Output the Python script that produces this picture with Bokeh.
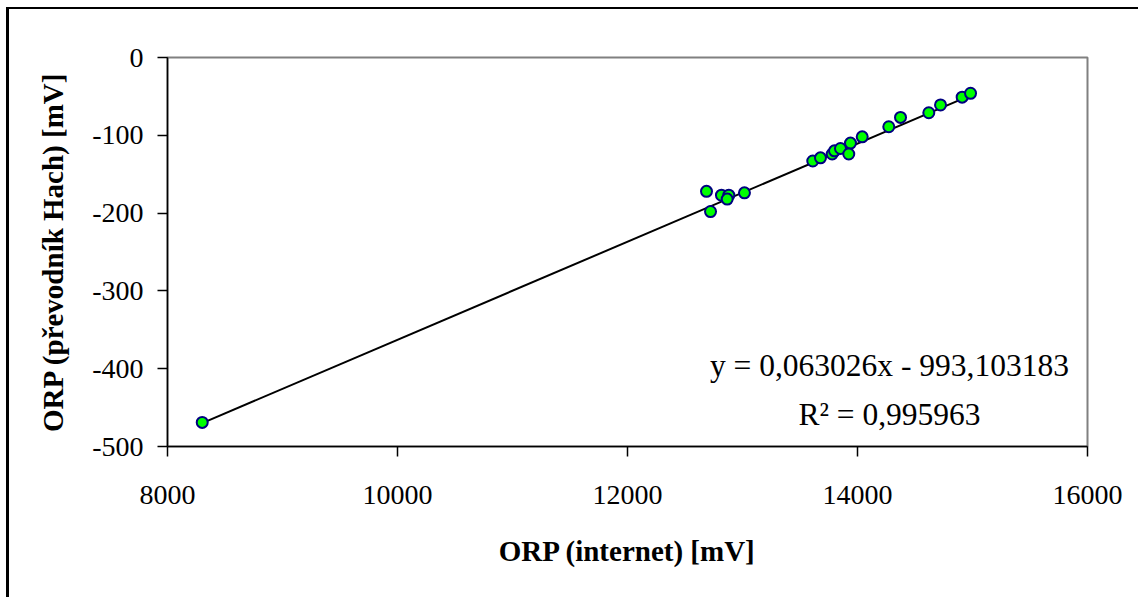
from bokeh.plotting import figure
from bokeh.models import Range1d, Label, FixedTicker
from bokeh.embed import file_html
from bokeh.resources import INLINE

# Data
orp_internet = [8302, 12687, 12722, 12817, 12881, 12867, 13017, 13611, 13678, 13780,
                13800, 13852, 13939, 13924, 14041, 14272, 14374, 14620, 14722, 14910, 14983]
orp_hach = [-469, -172, -198, -177, -177, -182, -174, -133, -129, -124,
            -120, -117, -110, -124, -102, -89, -77, -71, -61, -51, -46]

slope = 0.063026
intercept = -993.103183
eq_text = "y = 0,063026x - 993,103183"
r2_text = "R\u00b2 = 0,995963"

x_ticks = [8000, 10000, 12000, 14000, 16000]
y_ticks = [-500, -400, -300, -200, -100, 0]

FONT = "Liberation Serif"

p = figure(width=1132, height=590, output_backend="svg", toolbar_location=None,
           x_range=Range1d(8000, 16000), y_range=Range1d(-500, 0),
           min_border_left=158, min_border_right=54, min_border_top=48, min_border_bottom=153)
p.styles = {"border-left": "3px solid black", "border-top": "2px solid black",
            "margin-left": "6px", "margin-top": "7px"}

p.xgrid.visible = False
p.ygrid.visible = False
p.outline_line_color = "#808080"
p.outline_line_width = 2
p.background_fill_color = "white"
p.border_fill_color = "white"

for ax in (p.xaxis[0], p.yaxis[0]):
    ax.axis_line_color = "black"
    ax.axis_line_width = 1.5
    ax.major_tick_line_color = "black"
    ax.major_tick_line_width = 1.5
    ax.major_tick_in = 0
    ax.major_tick_out = 10
    ax.minor_tick_line_color = None
    ax.major_label_text_font = FONT
    ax.major_label_text_font_size = "28px"
    ax.major_label_text_color = "black"
    ax.axis_label_text_font = FONT
    ax.axis_label_text_font_size = "29px"
    ax.axis_label_text_font_style = "bold"
    ax.axis_label_text_color = "black"

p.xaxis.ticker = FixedTicker(ticks=x_ticks)
p.yaxis.ticker = FixedTicker(ticks=y_ticks)
p.xaxis.major_label_overrides = {t: str(t) for t in x_ticks}
p.yaxis.major_label_overrides = {t: str(t) for t in y_ticks}
p.xaxis.axis_label = "ORP (internet) [mV]"
p.yaxis.axis_label = "ORP (p\u0159evodn\u00edk Hach) [mV]"
p.xaxis.major_label_standoff = 29
p.yaxis.major_label_standoff = 14
p.xaxis.axis_label_standoff = 28
p.yaxis.axis_label_standoff = 20

# Trend line from min to max x using the regression
x0, x1 = min(orp_internet), max(orp_internet)
p.line([x0, x1], [slope * x0 + intercept, slope * x1 + intercept],
       line_color="black", line_width=2)

p.scatter(orp_internet, orp_hach, size=11, fill_color="#00FF00",
          line_color="#000080", line_width=2)

p.add_layout(Label(x=14278, y=-396, text=eq_text, text_align="center",
                   text_baseline="alphabetic", text_font=FONT,
                   text_font_size="31.5px", text_color="black"))
p.add_layout(Label(x=14278, y=-459, text=r2_text, text_align="center",
                   text_baseline="alphabetic", text_font=FONT,
                   text_font_size="31.5px", text_color="black"))

open("out.html", "w").write(file_html(p, INLINE))
